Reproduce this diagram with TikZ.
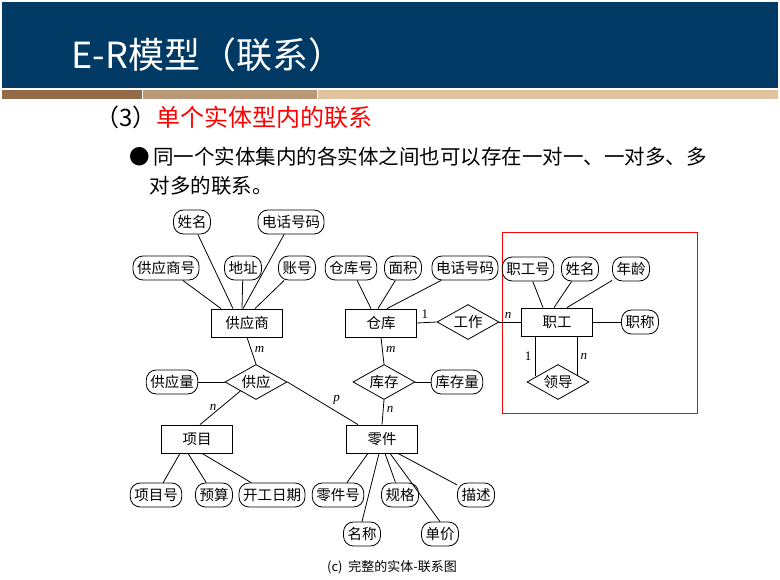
\documentclass[tikz,border=0pt]{standalone}
\usepackage{fontspec}
\setmainfont{Liberation Serif}
\newfontfamily\cjk{Noto Sans CJK SC}
\usetikzlibrary{shapes.geometric}
\definecolor{hdr}{HTML}{023A66}
\definecolor{br1}{HTML}{936B49}
\definecolor{br2}{HTML}{B89877}
\definecolor{br3}{HTML}{DFC39F}
\begin{document}
\begin{tikzpicture}[x=1pt,y=-1pt,
  attr/.style={draw,rounded corners=10pt,minimum height=24pt,inner xsep=4pt,inner ysep=0pt,font=\cjk\fontsize{14.5}{14.5}\selectfont,line width=0.8pt},
  ent/.style={draw,minimum width=71pt,minimum height=28pt,font=\cjk\fontsize{14.5}{14.5}\selectfont,line width=0.8pt},
  rel/.style={draw,diamond,aspect=1.75,minimum width=62pt,minimum height=35pt,inner sep=0pt,font=\cjk\fontsize{14.5}{14.5}\selectfont,line width=0.8pt},
  ln/.style={line width=0.8pt},
  card/.style={font=\itshape\fontsize{13}{13}\selectfont}]
\useasboundingbox (0,0) rectangle (780,580);
\fill[white] (0,0) rectangle (780,580);
\fill[hdr] (2,2) rectangle (778,88);
\fill[br1] (2,90) rectangle (142,99);
\fill[br2] (143,90) rectangle (317,99);
\fill[br3] (318,90) rectangle (778,99);
\node[anchor=west,text=white,font=\cjk\fontsize{36}{36}\selectfont] (title) at (68,55) {E-R模型（联系）};
\node[anchor=west,font=\cjk\fontsize{24}{24}\selectfont] (sub) at (92,117) {（3）\textcolor{red}{单个实体型内的联系}};
\node[anchor=west,font=\cjk\fontsize{20.5}{20.5}\selectfont] (b1) at (126,157) {●\,同一个实体集内的各实体之间也可以存在一对一、一对多、多};
\node[anchor=west,font=\cjk\fontsize{20.5}{20.5}\selectfont] (b2) at (146,186) {对多的联系。};
\draw[red,line width=0.8pt] (502,232) rectangle (697,413);
% entities
\node[ent] (gys) at (247,323) {供应商};
\node[ent] (ck) at (381,323) {仓库};
\node[ent] (zg) at (557,322) {职工};
\node[ent] (xm) at (197,439) {项目};
\node[ent] (lj) at (382,439) {零件};
% relations
\node[rel] (gy) at (256,382) {供应};
\node[rel] (kc) at (384,382) {库存};
\node[rel] (gz) at (468,322) {工作};
\node[rel] (ld) at (558,382) {领导};
% attributes
\node[attr] (a1) at (192,222) {姓名};
\node[attr] (a2) at (291,222) {电话号码};
\node[attr] (a3) at (166,268) {供应商号};
\node[attr] (a4) at (243,268) {地址};
\node[attr] (a5) at (297,268) {账号};
\node[attr] (b1a) at (351,268) {仓库号};
\node[attr] (b2a) at (403,268) {面积};
\node[attr] (b3a) at (465,268) {电话号码};
\node[attr] (c1) at (528,269) {职工号};
\node[attr] (c2) at (580,269) {姓名};
\node[attr] (c3) at (631,269) {年龄};
\node[attr] (c4) at (640,322) {职称};
\node[attr] (d1) at (172,382) {供应量};
\node[attr] (d2) at (457,382) {库存量};
\node[attr] (e1) at (156,495) {项目号};
\node[attr] (e2) at (214,495) {预算};
\node[attr] (e3) at (272,495) {开工日期};
\node[attr] (f1) at (338,495) {零件号};
\node[attr] (f2) at (400,495) {规格};
\node[attr] (f3) at (476,495) {描述};
\node[attr] (f4) at (362,534) {名称};
\node[attr] (f5) at (440,534) {单价};
% attribute lines
\draw[ln] (a1) -- ([xshift=-14pt]gys.north);
\draw[ln] (a2) -- ([xshift=-4pt]gys.north);
\draw[ln] (a3) -- ([xshift=-26pt]gys.north);
\draw[ln] (a4) -- ([xshift=-5pt]gys.north);
\draw[ln] (a5) -- ([xshift=8pt]gys.north);
\draw[ln] (b1a) -- ([xshift=-10pt]ck.north);
\draw[ln] (b2a) -- ([xshift=-3pt]ck.north);
\draw[ln] (b3a) -- ([xshift=6pt]ck.north);
\draw[ln] (c1) -- ([xshift=-14pt]zg.north);
\draw[ln] (c2) -- ([xshift=-3pt]zg.north);
\draw[ln] (c3) -- ([xshift=10pt]zg.north);
\draw[ln] (c4) -- (zg);
\draw[ln] (d1) -- (gy.west);
\draw[ln] (d2) -- (kc.east);
\draw[ln] (e1) -- ([xshift=-17pt]xm.south);
\draw[ln] (e2) -- ([xshift=-9pt]xm.south);
\draw[ln] (e3) -- ([xshift=5pt]xm.south);
\draw[ln] (f1) -- ([xshift=-14pt]lj.south);
\draw[ln] (f2) -- ([xshift=3pt]lj.south);
\draw[ln] (f3) -- ([xshift=16pt]lj.south);
\draw[ln] (f4.north) -- ([xshift=-3pt]lj.south);
\draw[ln] (f5.north) -- ([xshift=8pt]lj.south);
% relationship lines
\draw[ln] (gys.south) -- node[card,right,pos=0.45] {m} (gy.north);
\draw[ln] (gy.210) -- node[card,left,pos=0.5] {n} ([xshift=3pt]xm.north);
\draw[ln] (gy.east) -- node[card,above right,pos=0.6] {p} ([xshift=-24pt]lj.north);
\draw[ln] (ck.south) -- node[card,right,pos=0.45] {m} (kc.north);
\draw[ln] (kc.south) -- node[card,right,pos=0.4] {n} (lj.north);
\draw[ln] (ck.east) -- node[card,font=\fontsize{13}{13}\selectfont,above,pos=0.4] {1} (gz.west);
\draw[ln] (gz.east) -- node[card,above,pos=0.4] {n} (zg.west);
\coordinate (l1) at (535,376);
\coordinate (l2) at (577,376);
\draw[ln] (zg.south -| l1) -- node[card,font=\fontsize{13}{13}\selectfont,left] {1} (l1);
\draw[ln] (zg.south -| l2) -- node[card,right] {n} (l2);
\node[font=\cjk\fontsize{13}{13}\selectfont] (cap) at (392,567) {(c)\ \ 完整的实体-联系图};
\end{tikzpicture}
\end{document}
